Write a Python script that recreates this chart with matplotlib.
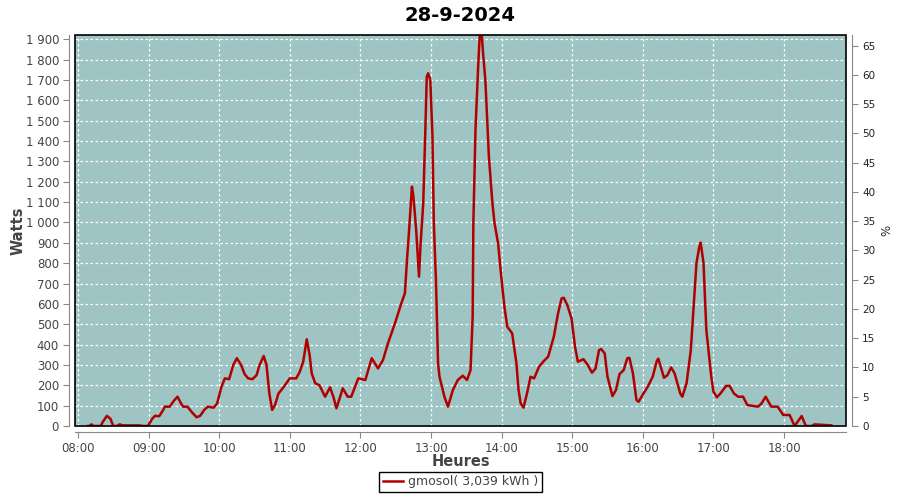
import numpy as np
import matplotlib.pyplot as plt
from matplotlib.ticker import FuncFormatter, MultipleLocator
from matplotlib.patches import Rectangle

# ------------------------- data -------------------------------------------------------
title = '28-9-2024'
series_name = 'gmosol( 3,039 kWh )'

# time in decimal hours
hours = [8.14, 8.16, 8.19, 8.22, 8.32, 8.36, 8.41, 8.46, 8.50, 8.55, 8.59, 8.63, 8.87, 8.92, 8.99,
         9.05, 9.09, 9.15, 9.20, 9.23, 9.30, 9.36, 9.41, 9.46, 9.49, 9.55, 9.62, 9.68, 9.73, 9.79,
         9.84, 9.92, 9.97, 10.03, 10.08, 10.14, 10.20, 10.25, 10.31, 10.36, 10.41, 10.47, 10.53,
         10.57, 10.63, 10.67, 10.71, 10.75, 10.79, 10.84, 10.88, 10.93, 11.00, 11.09, 11.14, 11.19,
         11.24, 11.28, 11.31, 11.36, 11.42, 11.50, 11.57, 11.62, 11.66, 11.71, 11.75, 11.82, 11.87,
         11.97, 12.07, 12.16, 12.25, 12.32, 12.39, 12.49, 12.58, 12.63, 12.66, 12.69, 12.72, 12.73,
         12.75, 12.79, 12.83, 12.85, 12.89, 12.92, 12.94, 12.96, 12.99, 13.02, 13.04, 13.07, 13.10,
         13.12, 13.19, 13.24, 13.31, 13.38, 13.45, 13.51, 13.56, 13.59, 13.60, 13.63, 13.67, 13.69,
         13.72, 13.74, 13.77, 13.82, 13.87, 13.90, 13.95, 14.00, 14.04, 14.08, 14.15, 14.21, 14.24,
         14.27, 14.31, 14.36, 14.41, 14.46, 14.53, 14.60, 14.66, 14.74, 14.80, 14.85, 14.88, 14.93,
         14.99, 15.04, 15.08, 15.16, 15.22, 15.28, 15.33, 15.38, 15.41, 15.46, 15.50, 15.57, 15.62,
         15.67, 15.73, 15.78, 15.81, 15.86, 15.91, 15.94, 16.01, 16.07, 16.14, 16.20, 16.22, 16.30,
         16.35, 16.40, 16.45, 16.53, 16.56, 16.62, 16.68, 16.72, 16.76, 16.80, 16.82, 16.86, 16.90,
         16.94, 16.97, 17.00, 17.05, 17.10, 17.18, 17.23, 17.29, 17.35, 17.42, 17.48, 17.63, 17.68,
         17.74, 17.82, 17.91, 17.99, 18.08, 18.15, 18.25, 18.31, 18.40, 18.43, 18.67]

watts = [0, 0, 8, 0, 0, 25, 50, 35, 0, 0, 8, 3, 3, 0, 0,
         35, 50, 48, 75, 95, 95, 125, 144, 110, 95, 95, 65, 43, 50, 80,
         95, 90, 110, 190, 234, 230, 300, 333, 300, 255, 234, 230, 250,
         298, 344, 300, 160, 79, 103, 160, 177, 200, 234, 234, 265, 316,
         426, 350, 259, 210, 200, 144, 190, 140, 87, 140, 185, 144, 144,
         234, 226, 333, 283, 324, 406, 505, 603, 652, 816, 963, 1120, 1176,
         1130, 963, 734, 881, 1094, 1455, 1716, 1733, 1700, 1430, 996, 717, 308,
         242, 144, 95, 177, 226, 247, 226, 275, 537, 996, 1455, 1782, 1916,
         1916, 1820, 1700, 1323, 1094, 996, 898, 717, 586, 488, 455, 308, 177,
         111, 90, 160, 242, 234, 291, 320, 341, 439, 554, 627, 630, 595,
         529, 390, 316, 328, 300, 262, 282, 373, 378, 357, 242, 147, 177,
         255, 275, 333, 335, 259, 128, 119, 160, 193, 242, 321, 331, 237,
         250, 288, 259, 160, 144, 210, 373, 586, 800, 880, 901, 800, 472,
         341, 242, 169, 141, 160, 197, 197, 160, 144, 144, 103, 95, 110,
         144, 95, 95, 54, 54, 0, 49, 0, 0, 8, 3]

# right axis (%) range, left axis (W) range
w_max = 1921
pct_max = 66.8
# ------------------------------------------------------------------------------------

bg = '#9ec4c4'
txt = '#444444'
axcol = '#888888'

fig = plt.figure(figsize=(9, 5), dpi=100)
ax = fig.add_axes([75/900, 1-426/500, (846-75)/900, (426-35)/500])
ax.set_facecolor(bg)

ax.plot(hours, watts, color='#b00000', lw=1.8, zorder=3)

ax.set_xlim(8 - 3/70.6, 18 + 62/70.6)
ax.set_ylim(0, w_max)

ax.xaxis.set_major_locator(MultipleLocator(1))
ax.xaxis.set_major_formatter(FuncFormatter(lambda v, p: '%02d:%02d' % (int(v), round((v % 1)*60))))
ax.yaxis.set_major_locator(MultipleLocator(100))
ax.yaxis.set_major_formatter(FuncFormatter(lambda v, p: '{:,}'.format(int(v)).replace(',', ' ')))

ax.grid(True, color='white', ls=(0, (2, 2)), lw=0.9)
ax.set_axisbelow(True)

ax.spines['top'].set_visible(False)
ax.spines['right'].set_visible(False)
for s in ['left', 'bottom']:
    ax.spines[s].set_position(('outward', 4))
    ax.spines[s].set_color(axcol)
ax.tick_params(colors=axcol, labelcolor=txt, labelsize=8.5, length=4)

# black frame around plot area
ax.add_patch(Rectangle((0, 0), 1, 1, transform=ax.transAxes, fill=False,
                       edgecolor='black', lw=1.2, zorder=5, clip_on=False))

ax.set_ylabel('Watts', fontsize=10.5, fontweight='bold', color=txt)
ax.yaxis.set_label_coords(-0.064, 0.5)
ax.set_xlabel('Heures', fontsize=10.5, fontweight='bold', color=txt)
ax.xaxis.set_label_coords(0.5, -0.072)
ax.set_title(title, fontsize=14, fontweight='bold', pad=10)

ax2 = ax.twinx()
ax2.set_ylim(0, pct_max)
ax2.yaxis.set_major_locator(MultipleLocator(5))
for s in ['top', 'left', 'bottom']:
    ax2.spines[s].set_visible(False)
ax2.spines['right'].set_position(('outward', 4))
ax2.spines['right'].set_color(axcol)
ax2.tick_params(colors=axcol, labelcolor='#222222', labelsize=7.5, length=4)
ax2.set_ylabel('%', fontsize=8.5, color='#222222')
ax2.yaxis.set_label_coords(1.044, 0.5)

leg = fig.legend(ax.lines, [series_name], loc='lower center', bbox_to_anchor=(0.512, 0.003),
                 fancybox=False, edgecolor='black', framealpha=1, fontsize=9,
                 handlelength=1.6, handletextpad=0.4, borderpad=0.3)
leg.get_frame().set_linewidth(1)
for t in leg.get_texts():
    t.set_color(txt)

fig.savefig('out.png')
